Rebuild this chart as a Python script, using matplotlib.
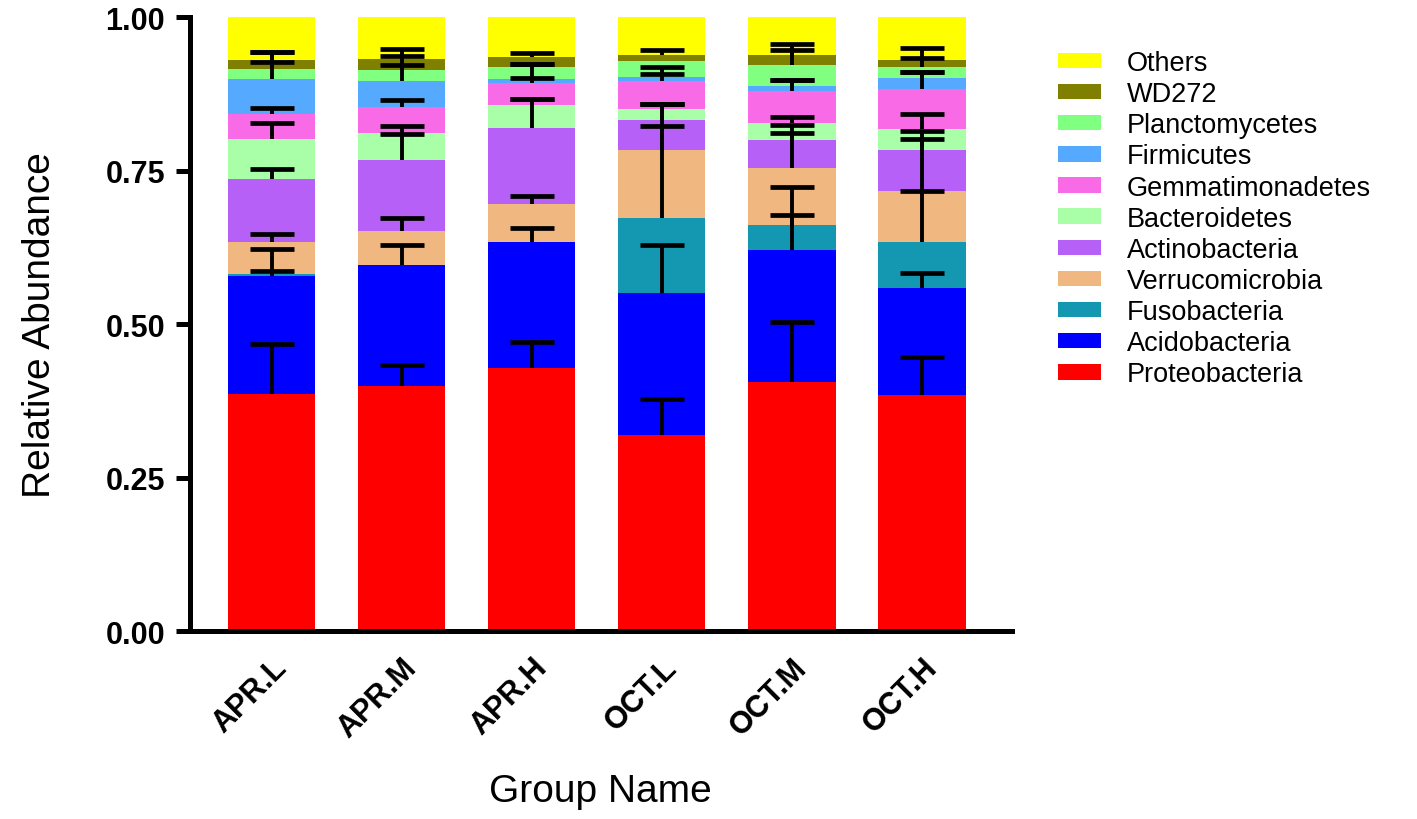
import numpy as np
import matplotlib
matplotlib.use("Agg")
import matplotlib.pyplot as plt
from matplotlib.patches import Patch

plt.rcParams['font.family'] = ['Liberation Sans', 'DejaVu Sans']

groups = ['APR.L', 'APR.M', 'APR.H', 'OCT.L', 'OCT.M', 'OCT.H']

# bottom to top of each bar
taxa = ['Proteobacteria', 'Acidobacteria', 'Fusobacteria', 'Verrucomicrobia',
        'Actinobacteria', 'Bacteroidetes', 'Gemmatimonadetes', 'Firmicutes',
        'Planctomycetes', 'WD272', 'Others']
colors = ['#FF0000', '#0000FF', '#1497B0', '#F0B880', '#B660F8', '#A8FFA8',
          '#F96AE6', '#55AAFF', '#80FF80', '#808000', '#FFFF00']

# mean relative abundance, one list per taxon (order follows groups)
proteobacteria   = [0.386, 0.399, 0.428, 0.319, 0.406, 0.385]
acidobacteria    = [0.192, 0.197, 0.205, 0.232, 0.215, 0.174]
fusobacteria     = [0.003, 0.000, 0.000, 0.122, 0.041, 0.075]
verrucomicrobia  = [0.052, 0.055, 0.062, 0.111, 0.093, 0.083]
actinobacteria   = [0.103, 0.117, 0.125, 0.049, 0.045, 0.066]
bacteroidetes    = [0.065, 0.043, 0.037, 0.017, 0.028, 0.035]
gemmatimonadetes = [0.041, 0.042, 0.035, 0.046, 0.052, 0.065]
firmicutes       = [0.057, 0.043, 0.007, 0.006, 0.007, 0.018]
planctomycetes   = [0.016, 0.018, 0.019, 0.026, 0.035, 0.017]
wd272            = [0.015, 0.018, 0.017, 0.011, 0.017, 0.012]
others           = [0.070, 0.068, 0.065, 0.061, 0.061, 0.070]

# standard deviation (upper error bar only)
proteobacteria_sd   = [0.081, 0.035, 0.043, 0.059, 0.097, 0.061]
acidobacteria_sd    = [0.045, 0.033, 0.023, 0.078, 0.057, 0.024]
fusobacteria_sd     = [0.006, 0.000, 0.000, 0.150, 0.061, 0.083]
verrucomicrobia_sd  = [0.014, 0.021, 0.013, 0.075, 0.057, 0.085]
actinobacteria_sd   = [0.016, 0.041, 0.047, 0.026, 0.024, 0.031]
bacteroidetes_sd    = [0.026, 0.011, 0.010, 0.009, 0.010, 0.024]
gemmatimonadetes_sd = [0.010, 0.012, 0.008, 0.011, 0.018, 0.027]
firmicutes_sd       = [0.028, 0.026, 0.024, 0.016, 0.011, 0.009]
planctomycetes_sd   = [0.028, 0.023, 0.005, 0.000, 0.025, 0.016]
wd272_sd            = [0.013, 0.016, 0.006, 0.007, 0.017, 0.020]
others_sd           = [0.000, 0.000, 0.000, 0.000, 0.000, 0.000]

means = np.array([proteobacteria, acidobacteria, fusobacteria, verrucomicrobia,
                  actinobacteria, bacteroidetes, gemmatimonadetes, firmicutes,
                  planctomycetes, wd272, others])
sds = np.array([proteobacteria_sd, acidobacteria_sd, fusobacteria_sd,
                verrucomicrobia_sd, actinobacteria_sd, bacteroidetes_sd,
                gemmatimonadetes_sd, firmicutes_sd, planctomycetes_sd,
                wd272_sd, others_sd])

fig = plt.figure(figsize=(14.17, 8.2), dpi=100)
ax = fig.add_axes([0.134, 0.229, 0.580, 0.749])

x = np.arange(len(groups))
bottom = np.zeros(len(groups))
for i in range(len(taxa)):
    ax.bar(x, means[i], 0.67, bottom=bottom, color=colors[i], label=taxa[i],
           zorder=2)
    bottom = bottom + means[i]

# error bars drawn afterwards so the stems sit on top of every segment
tops = np.cumsum(means, axis=0)
for i in range(len(taxa)):
    m = sds[i] > 0
    if not m.any():
        continue
    ax.errorbar(x[m], tops[i][m], yerr=[np.zeros(m.sum()), sds[i][m]],
                fmt='none', ecolor='black', elinewidth=2.8, capsize=0,
                zorder=5, clip_on=False)
    ax.plot(x[m], tops[i][m] + sds[i][m], ls='none', marker='_',
            markersize=31, mew=3.4, color='black', zorder=5, clip_on=False)

ax.set_ylim(0, 1.0)
ax.set_xlim(-0.63, 5.69)
ax.set_yticks([0, 0.25, 0.5, 0.75, 1.0])
ax.set_yticklabels(['0.00', '0.25', '0.50', '0.75', '1.00'],
                   fontsize=22, fontweight='bold')
ax.set_xticks(x)
ax.set_xticklabels(groups, fontsize=22, fontweight='bold', rotation=45,
                   ha='right', va='top', rotation_mode='anchor')
ax.tick_params(axis='y', length=10, width=3.6, pad=8)
ax.tick_params(axis='x', length=0, pad=15)

for s in ['top', 'right']:
    ax.spines[s].set_visible(False)
for s in ['left', 'bottom']:
    ax.spines[s].set_linewidth(3.6)
ax.spines['left'].set_bounds(0, 1.0)

ax.set_ylabel('Relative Abundance', fontsize=28, labelpad=34)
ax.set_xlabel('Group Name', fontsize=28, labelpad=22)

handles = [Patch(facecolor=colors[i], label=taxa[i]) for i in range(len(taxa))][::-1]
fig.legend(handles=handles, loc='upper left', bbox_to_anchor=(0.739, 0.951),
           frameon=False, fontsize=19.5, handlelength=1.6, handleheight=0.5,
           labelspacing=0.19, handletextpad=0.95, borderaxespad=0)

plt.savefig("out.png", dpi=100)
